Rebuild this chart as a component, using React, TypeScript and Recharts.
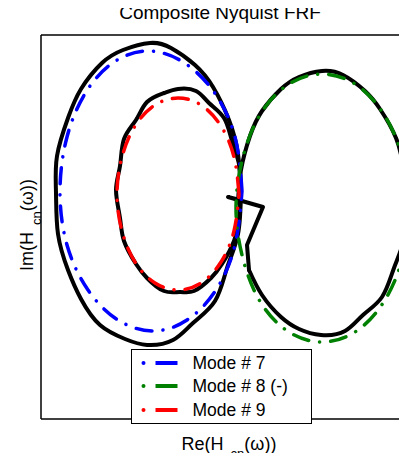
import { LineChart, Line, XAxis, YAxis, ReferenceLine, Legend } from "recharts";

// axis limits (no ticks are shown on this plot)
const X_DOMAIN: [number, number] = [-1.99, 1.75];
const Y_DOMAIN: [number, number] = [-2.19, 1.65];

// Mode # 7 fitted circle (blue)
const mode7Re = [0.02, -0.05, -0.26, -0.57, -0.92, -1.26, -1.54, -1.73, -1.8, -1.73, -1.52, -1.22, -0.87, -0.53, -0.24, -0.05, 0.02];
const mode7Im = [0.09, 0.63, 1.08, 1.38, 1.49, 1.38, 1.08, 0.63, 0.09, -0.45, -0.9, -1.2, -1.31, -1.2, -0.9, -0.45, 0.09];

// Mode # 8 (-) fitted circle (green)
const mode8Re = [1.68, 1.62, 1.43, 1.15, 0.82, 0.49, 0.21, 0.03, -0.04, 0.03, 0.21, 0.49, 0.82, 1.15, 1.43, 1.62, 1.68];
const mode8Im = [-0.08, 0.43, 0.87, 1.16, 1.26, 1.16, 0.87, 0.43, -0.08, -0.59, -1.03, -1.32, -1.42, -1.32, -1.03, -0.59, -0.08];

// Mode # 9 fitted circle (red)
const mode9Re = [-0.01, -0.06, -0.19, -0.39, -0.62, -0.85, -1.05, -1.18, -1.23, -1.18, -1.05, -0.85, -0.62, -0.39, -0.19, -0.06, -0.01];
const mode9Im = [0.06, 0.43, 0.74, 0.95, 1.02, 0.95, 0.74, 0.43, 0.06, -0.31, -0.62, -0.83, -0.9, -0.83, -0.62, -0.31, 0.06];

const compLoop7Re = [0.01, -0.02, -0.11, -0.27, -0.45, -0.69, -0.9, -1.17, -1.38, -1.59, -1.72, -1.83, -1.84, -1.82, -1.72, -1.59, -1.4, -1.15, -0.93, -0.67, -0.47, -0.25, -0.13, -0.02, 0.01];
const compLoop7Im = [0.06, 0.46, 0.8, 1.13, 1.35, 1.52, 1.57, 1.5, 1.37, 1.11, 0.82, 0.44, 0.07, -0.34, -0.7, -0.99, -1.25, -1.39, -1.45, -1.4, -1.23, -1.01, -0.68, -0.34, 0.09];

const compLoop9Re = [0.01, -0.01, -0.08, -0.16, -0.31, -0.44, -0.62, -0.76, -0.93, -1.04, -1.16, -1.2, -1.24, -1.2, -1.16, -1.04, -0.93, -0.76, -0.6, -0.46, -0.29, -0.18, -0.06, -0.01, 0.0];
const compLoop9Im = [0.09, 0.36, 0.59, 0.82, 0.97, 1.09, 1.11, 1.07, 0.98, 0.8, 0.61, 0.34, 0.1, -0.18, -0.41, -0.64, -0.78, -0.91, -0.92, -0.91, -0.78, -0.64, -0.41, -0.18, 0.0];

const compKinkRe = [0.0, -0.12, 0.23, 0.07, 0.09];
const compKinkIm = [0.0, 0.03, -0.07, -0.45, -0.7];

const compLoop8Re = [0.09, 0.22, 0.41, 0.59, 0.81, 1.05, 1.23, 1.42, 1.54, 1.64, 1.65, 1.63, 1.56, 1.4, 1.25, 1.03, 0.82, 0.59, 0.41, 0.22, 0.1, 0.01, -0.02];
const compLoop8Im = [-0.7, -0.95, -1.17, -1.29, -1.35, -1.31, -1.15, -0.97, -0.68, -0.38, -0.02, 0.32, 0.62, 0.91, 1.09, 1.25, 1.29, 1.23, 1.11, 0.89, 0.64, 0.3, -0.03];

const toPoints = (re: number[], im: number[]) => re.map((x, i) => ({ x, y: im[i] }));

const compPieces = [
  { key: "c7", re: compLoop7Re, im: compLoop7Im, curve: "natural" },
  { key: "c9", re: compLoop9Re, im: compLoop9Im, curve: "natural" },
  { key: "ck", re: compKinkRe, im: compKinkIm, curve: "linear" },
  { key: "c8", re: compLoop8Re, im: compLoop8Im, curve: "natural" },
];

const modes = [
  { name: "Mode # 7", re: mode7Re, im: mode7Im, color: "#0000ff" },
  { name: "Mode # 8 (-)", re: mode8Re, im: mode8Im, color: "#008000" },
  { name: "Mode # 9", re: mode9Re, im: mode9Im, color: "#ff0000" },
];

const FONT = "'Liberation Sans', Arial, Helvetica, sans-serif";

const renderLegend = (props: any) => {
  const payload = (props.payload || []).filter((e: any) => e.type !== "none");
  return (
    <div
      style={{
        border: "1.5px solid #000",
        background: "#fff",
        width: 181,
        height: 75,
        boxSizing: "border-box",
        paddingTop: 1,
        fontFamily: FONT,
      }}
    >
      {payload.map((entry: any) => (
        <div key={entry.value} style={{ display: "flex", alignItems: "center", height: 23.5 }}>
          <svg width={58} height={10} style={{ display: "block" }}>
            <circle cx={11.5} cy={5} r={2} fill={entry.color} />
            <line x1={23.5} x2={45.5} y1={5} y2={5} stroke={entry.color} strokeWidth={4} />
          </svg>
          <span style={{ marginLeft: 2.5, fontSize: 17.5, lineHeight: "20px", color: "#000" }}>
            {entry.value}
          </span>
        </div>
      ))}
    </div>
  );
};

export default function App() {
  const dash = "16 11 0.1 11";
  return (
    <div style={{ position: "relative", width: 407, height: 461, margin: -8, overflow: "hidden", background: "#fff" }}>
      <LineChart width={430} height={461} margin={{ top: 35, right: 15, bottom: 42, left: 41 }}>
        <XAxis type="number" dataKey="x" domain={X_DOMAIN} allowDataOverflow hide />
        <YAxis type="number" dataKey="y" domain={Y_DOMAIN} allowDataOverflow hide />

        <ReferenceLine x={X_DOMAIN[0]} stroke="#000" strokeWidth={1.5} ifOverflow="visible" />
        <ReferenceLine y={Y_DOMAIN[0]} stroke="#000" strokeWidth={1.5} ifOverflow="visible" />
        <ReferenceLine y={Y_DOMAIN[1]} stroke="#000" strokeWidth={1.5} ifOverflow="visible" />

        {compPieces.map((p) => (
          <Line
            key={p.key}
            data={toPoints(p.re, p.im)}
            dataKey="y"
            name="Composite"
            type={p.curve as any}
            stroke="#000"
            strokeWidth={4}
            strokeLinejoin="round"
            strokeLinecap="round"
            dot={false}
            activeDot={false}
            legendType="none"
            isAnimationActive={false}
          />
        ))}

        {modes.map((m) => (
          <Line
            key={m.name}
            data={toPoints(m.re, m.im)}
            dataKey="y"
            name={m.name}
            type="natural"
            stroke={m.color}
            strokeWidth={3.5}
            strokeDasharray={dash}
            strokeLinecap="round"
            dot={false}
            activeDot={false}
            isAnimationActive={false}
          />
        ))}

        <Legend
          layout="vertical"
          align="center"
          verticalAlign="middle"
          content={renderLegend}
          wrapperStyle={{ position: "absolute", left: 131, top: 349, width: 181, height: 75 }}
        />
      </LineChart>

      {/* title and axis labels */}
      <svg
        width={407}
        height={461}
        style={{ position: "absolute", left: 0, top: 0, pointerEvents: "none" }}
        fontFamily={FONT}
        fill="#000"
      >
        <text x={220} y={19} textAnchor="middle" fontSize={19}>
          Composite Nyquist FRF
        </text>
        <text x={229} y={450} textAnchor="middle" fontSize={18}>
          Re(H
          <tspan dx={7} dy={8} fontSize={13}>cn</tspan>
          <tspan dy={-8} fontSize={18}>(ω))</tspan>
        </text>
        <text transform="translate(33,225) rotate(-90)" textAnchor="middle" fontSize={18}>
          Im(H
          <tspan dx={7} dy={8} fontSize={13}>cn</tspan>
          <tspan dy={-8} fontSize={18}>(ω))</tspan>
        </text>
      </svg>
    </div>
  );
}
